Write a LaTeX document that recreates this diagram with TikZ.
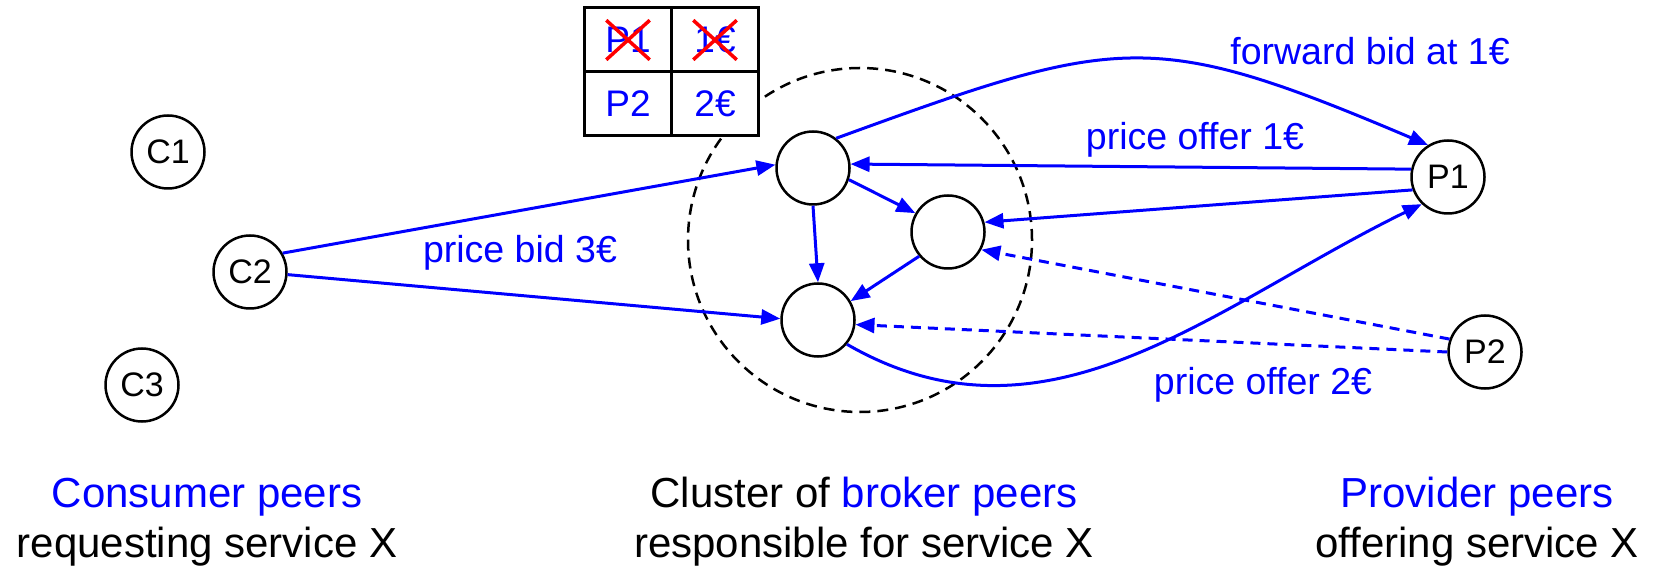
\documentclass[tikz,border=0pt]{standalone}
\usepackage{fontspec}
\setmainfont{Liberation Sans}
\usetikzlibrary{arrows.meta,shapes.misc}

\tikzset{
  peer/.style={draw, circle, line width=2.5pt, minimum size=73pt, inner sep=0pt,
    font=\fontsize{34}{38}\selectfont},
  cluster/.style={draw, circle, dashed, dash pattern=on 11pt off 7pt, line width=2.5pt,
    minimum size=344pt, inner sep=0pt},
  cell/.style={draw, fill=white, line width=3pt, minimum width=87pt, minimum height=64pt,
    text=blue, font=\fontsize{37}{42}\selectfont},
  xmark/.style={cross out, draw=red, line width=3.5pt, minimum width=40pt,
    minimum height=36pt, inner sep=0pt},
  lbl/.style={text=blue, anchor=base, inner sep=0pt,
    font=\fontsize{37.5}{42}\selectfont},
  capt/.style={anchor=base, inner sep=0pt, font=\fontsize{42}{48}\selectfont},
  msg/.style={color=blue, line width=3pt, -{Triangle[length=19pt,width=15pt]}},
  offer/.style={msg, dash pattern=on 10pt off 7pt},
}

\begin{document}
\begin{tikzpicture}[x=1pt, y=1pt]
\useasboundingbox (0,0) rectangle (1653,565);

% consumer peers
\node[peer] (C1) at (168, 413) {C1};
\node[peer] (C2) at (250, 293) {C2};
\node[peer] (C3) at (142, 180) {C3};

% broker cluster
\node[cluster] (clu) at (860, 325) {};
\node[peer] (B1) at (813, 397) {};
\node[peer] (B2) at (948, 333) {};
\node[peer] (B3) at (818, 245) {};

% provider peers
\node[peer] (P1) at (1448, 388) {P1};
\node[peer] (P2) at (1485, 213) {P2};

% price table of the broker
\node[cell] (t11) at (628, 525) {P1};
\node[cell] (t12) at (715, 525) {1€};
\node[cell] (t21) at (628, 461) {P2};
\node[cell] (t22) at (715, 461) {2€};
\node[xmark] (x11) at (t11) {};
\node[xmark] (x12) at (t12) {};

% messages
\path[msg] (C2.30) edge (B1.175);
\path[msg] (C2.-4) edge (B3.178);
\path[msg] (B1.-18) edge (B2.150);
\path[msg] (B1.south) edge (B3.north);
\path[msg] (B2.220) edge (B3.30);
\path[msg] (P1.168) edge (B1.6);
\path[msg] (P1.200) edge (B2.15);
\path[msg] (B1.52) edge[out=20, in=157, looseness=1.3] (P1.122);
\path[msg] (B3.-40) edge[out=-30, in=206] (P1.226);
\path[offer] (P2.160) edge (B2.-28);
\path[offer] (P2.west) edge (B3.-7);

% labels
\node[lbl] (fwd) at (1370, 500) {forward bid at 1€};
\node[lbl] (off1) at (1195, 415) {price offer 1€};
\node[lbl] (off2) at (1263, 170) {price offer 2€};
\node[lbl] (bid) at (520, 302) {price bid 3€};

% captions
\node[capt] (cons) at (207, 58) {\color{blue}Consumer peers};
\node[capt] (consb) at (207, 8) {requesting service X};
\node[capt] (brok) at (864, 58) {Cluster of \textcolor{blue}{broker peers}};
\node[capt] (brokb) at (864, 8) {responsible for service X};
\node[capt] (prov) at (1477, 58) {\color{blue}Provider peers};
\node[capt] (provb) at (1477, 8) {offering service X};
\end{tikzpicture}
\end{document}
